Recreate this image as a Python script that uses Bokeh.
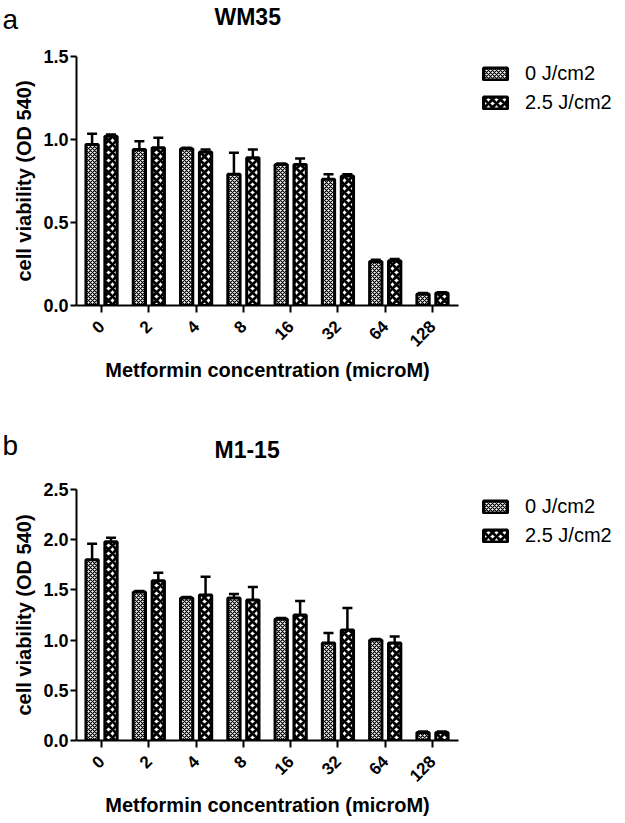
import numpy as np
from bokeh.plotting import figure
from bokeh.models import (ColumnDataSource, Range1d, FixedTicker, Whisker, TeeHead,
                          Legend, LegendItem, NumeralTickFormatter)
from bokeh.core.properties import value
from bokeh.layouts import column, row
from bokeh.embed import file_html
from bokeh.resources import INLINE

# ---------------- data ----------------
categories = ["0", "2", "4", "8", "16", "32", "64", "128"]
series_names = ["0 J/cm2", "2.5 J/cm2"]

wm35_0 = [0.97, 0.94, 0.945, 0.79, 0.85, 0.76, 0.265, 0.07]
wm35_0_err = [0.065, 0.05, 0.005, 0.13, 0.005, 0.03, 0.01, 0.005]
wm35_25 = [1.02, 0.95, 0.925, 0.89, 0.85, 0.78, 0.27, 0.075]
wm35_25_err = [0.01, 0.06, 0.015, 0.05, 0.035, 0.01, 0.01, 0.005]

m115_0 = [1.80, 1.48, 1.42, 1.42, 1.21, 0.97, 1.00, 0.08]
m115_0_err = [0.16, 0.01, 0.01, 0.04, 0.01, 0.10, 0.01, 0.01]
m115_25 = [1.98, 1.59, 1.45, 1.40, 1.25, 1.10, 0.97, 0.08]
m115_25_err = [0.04, 0.08, 0.18, 0.13, 0.14, 0.22, 0.065, 0.01]

wm35_yticks = [0.0, 0.5, 1.0, 1.5]
m115_yticks = [0.0, 0.5, 1.0, 1.5, 2.0, 2.5]

FONT = "Liberation Sans"
W = 625


def make_header(letter, title, h, letter_base, title_base):
    p = figure(width=W, height=h, output_backend="svg", toolbar_location=None,
               x_range=Range1d(0, W), y_range=Range1d(h, 0),
               x_axis_type=None, y_axis_type=None,
               min_border=0, min_border_left=0, min_border_right=0,
               min_border_top=0, min_border_bottom=0)
    p.frame_width = W
    p.frame_height = h
    p.outline_line_color = None
    p.xgrid.visible = False
    p.ygrid.visible = False
    p.text(x=[2], y=[letter_base], text=[letter], text_font=value(FONT),
           text_font_size="28px", text_baseline="alphabetic", text_color="black")
    p.text(x=[214], y=[title_base], text=[title], text_font=value(FONT),
           text_font_size="23px", text_font_style="bold",
           text_baseline="alphabetic", text_color="black")
    return row(p, spacing=0)


def make_panel(v0, e0, v1, e1, yticks, fig_h, top_b, frame_h, legend_y):
    n = len(categories)
    idx = np.arange(n)
    p = figure(width=W, height=fig_h, output_backend="svg", toolbar_location=None,
               x_range=Range1d(-0.53, 7.55), y_range=Range1d(0, yticks[-1]),
               min_border_left=76, min_border_right=W - 76 - 382, min_border_top=top_b,
               min_border_bottom=fig_h - top_b - frame_h)
    p.frame_width = 382
    p.frame_height = frame_h
    p.outline_line_color = None
    p.xgrid.visible = False
    p.ygrid.visible = False
    p.background_fill_color = "white"
    p.border_fill_color = "white"

    specs = [
        (v0, e0, -0.2, "diagonal_cross", 4, 1.2),
        (v1, e1, 0.2, "diagonal_cross", 8, 2.8),
    ]
    rends = []
    for vals, errs, off, pat, sc, wt in specs:
        src = ColumnDataSource(dict(x=idx + off, top=vals,
                                    up=[a + b for a, b in zip(vals, errs)]))
        r = p.vbar(x="x", top="top", bottom=0, width=0.26, source=src,
                   fill_color="white", line_color="black", line_width=3,
                   hatch_pattern=pat, hatch_color="black", hatch_scale=sc,
                   hatch_weight=wt)
        w = Whisker(base="x", lower="top", upper="up", source=src, dimension="height",
                    line_color="black", line_width=2.5,
                    upper_head=TeeHead(size=10, line_width=2.5, line_color="black"),
                    lower_head=None)
        p.add_layout(w)
        rends.append(r)

    # axes
    p.xaxis.ticker = FixedTicker(ticks=list(idx))
    p.xaxis.major_label_overrides = {int(i): c for i, c in zip(idx, categories)}
    p.xaxis.major_label_orientation = np.pi / 4
    p.xaxis.minor_tick_line_color = None
    p.xaxis.major_tick_in = 0
    p.xaxis.major_tick_out = 7
    p.xaxis.axis_line_width = 2
    p.xaxis.axis_line_color = "black"
    p.xaxis.major_tick_line_width = 2
    p.xaxis.major_tick_line_color = "black"
    p.xaxis.major_label_text_font = FONT
    p.xaxis.major_label_text_font_style = "bold"
    p.xaxis.major_label_text_font_size = "17px"
    p.xaxis.major_label_text_color = "black"
    p.xaxis.major_label_standoff = 11
    p.xaxis.axis_label = "Metformin concentration (microM)"
    p.xaxis.axis_label_text_font = FONT
    p.xaxis.axis_label_text_font_style = "bold"
    p.xaxis.axis_label_text_font_size = "20px"
    p.xaxis.axis_label_text_color = "black"
    p.xaxis.axis_label_standoff = 4

    p.yaxis.ticker = FixedTicker(ticks=yticks)
    p.yaxis.formatter = NumeralTickFormatter(format="0.0")
    p.yaxis.minor_tick_line_color = None
    p.yaxis.major_tick_in = 0
    p.yaxis.major_tick_out = 6
    p.yaxis.axis_line_width = 2
    p.yaxis.axis_line_color = "black"
    p.yaxis.major_tick_line_width = 2
    p.yaxis.major_tick_line_color = "black"
    p.yaxis.major_label_text_font = FONT
    p.yaxis.major_label_text_font_style = "bold"
    p.yaxis.major_label_text_font_size = "18px"
    p.yaxis.major_label_text_color = "black"
    p.yaxis.major_label_standoff = 2
    p.yaxis.axis_label = "cell viability (OD 540)"
    p.yaxis.axis_label_text_font = FONT
    p.yaxis.axis_label_text_font_style = "bold"
    p.yaxis.axis_label_text_font_size = "20px"
    p.yaxis.axis_label_text_color = "black"
    p.yaxis.axis_label_standoff = 5

    # legend
    legend = Legend(items=[LegendItem(label=series_names[0], renderers=[rends[0]]),
                           LegendItem(label=series_names[1], renderers=[rends[1]])],
                    location=(22, legend_y), glyph_width=30, glyph_height=15,
                    label_text_font=FONT, label_text_font_size="20px",
                    label_text_color="black",
                    label_standoff=15, padding=0, margin=0, spacing=6,
                    border_line_color=None, background_fill_alpha=0)
    p.add_layout(legend, "right")
    return p


h1 = make_header("a", "WM35", 48, 19, 16)
p1 = make_panel(wm35_0, wm35_0_err, wm35_25, wm35_25_err,
                wm35_yticks, 365, 8, 249, 191)
h2 = make_header("b", "M1-15", 68, 32, 36)
p2 = make_panel(m115_0, m115_0_err, m115_25, m115_25_err,
                m115_yticks, 342, 8, 251, 193)

layout = column(h1, p1, h2, p2, spacing=0)
open("out.html", "w").write(file_html(layout, INLINE))
